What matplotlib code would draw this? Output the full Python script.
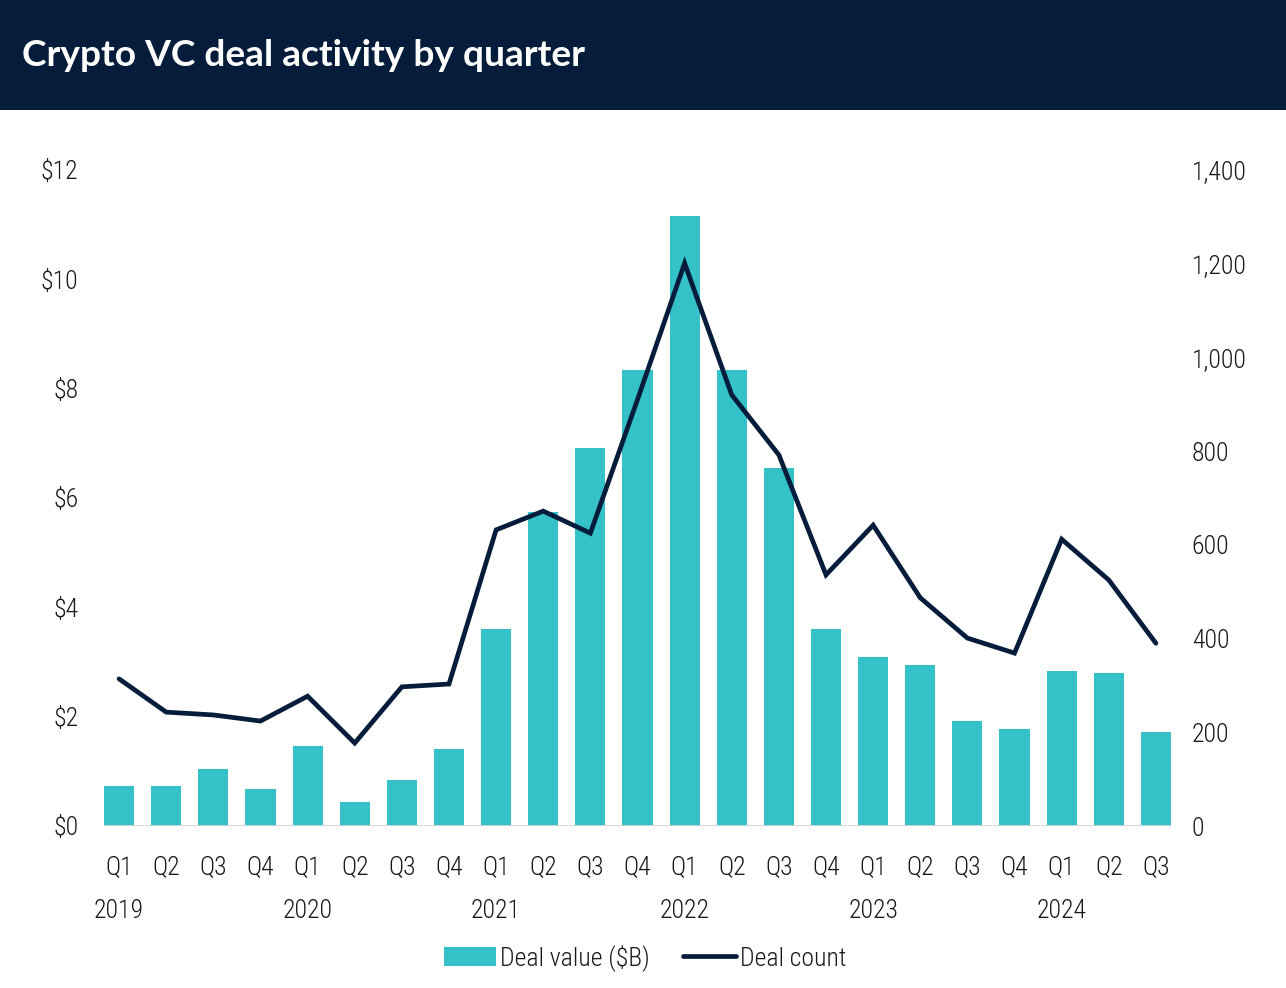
import matplotlib
matplotlib.use("Agg")
import matplotlib.pyplot as plt
from matplotlib.patches import Rectangle
from matplotlib.lines import Line2D
from matplotlib import font_manager as fm

quarters = ["Q1", "Q2", "Q3", "Q4"] * 5 + ["Q1", "Q2", "Q3"]
years = ["2019", "2020", "2021", "2022", "2023", "2024"]
deal_value = [0.73, 0.73, 1.04, 0.68, 1.46, 0.44, 0.84, 1.41,
              3.60, 5.74, 6.91, 8.34, 11.16, 8.34, 6.55, 3.60,
              3.09, 2.94, 1.92, 1.77, 2.84, 2.80, 1.72]
deal_count = [314, 243, 237, 224, 277, 177, 297, 303,
              632, 672, 625, 910, 1201, 920, 792, 536,
              642, 487, 401, 369, 612, 525, 390]
left_ticks = [0, 2, 4, 6, 8, 10, 12]
right_ticks = [0, 200, 400, 600, 800, 1000, 1200, 1400]

CYAN = "#34C1C8"
NAVY = "#051C3B"
TXT = "#1a1a1a"

names = {f.name for f in fm.fontManager.ttflist}
cands = ["Roboto Condensed", "Liberation Sans Narrow", "Open Sans Condensed", "Roboto"]
narrow = next((c for c in cands if c in names), "DejaVu Sans")
title_font = "Lato" if "Lato" in names else "DejaVu Sans"
FS = 18.5
fp = dict(family=narrow, fontsize=FS, color=TXT, fontweight="light")

W, H = 1286, 988
fig = plt.figure(figsize=(W / 100, H / 100), dpi=100)
fig.patch.set_facecolor("white")

# title band
fig.patches.append(Rectangle((0, 1 - 110 / H), 1, 110 / H, transform=fig.transFigure,
                             facecolor=NAVY, edgecolor="none", zorder=0))
fig.text(22 / W, 1 - 56 / H, "Crypto VC deal activity by quarter", color="white",
         fontsize=26.7, fontweight="bold", family=title_font, va="center", ha="left")

ax = fig.add_axes([104 / W, 1 - 826 / H, (1171 - 104) / W, (826 - 170) / H])
ax2 = ax.twinx()
n = len(deal_value)
x = list(range(n))
ax.bar(x, deal_value, width=0.64, color=CYAN, zorder=2)
ax2.plot(x, deal_count, color=NAVY, lw=3.4, solid_joinstyle="miter", solid_capstyle="round", zorder=3)

ax.set_xlim(-0.32, n - 1 + 0.32)
ax.set_ylim(0, 12)
ax2.set_ylim(0, 1400)
for a in (ax, ax2):
    for s in a.spines.values():
        s.set_visible(False)
    a.tick_params(length=0)
ax.axhline(0, color="#D3D3D3", lw=2, zorder=4)

ax.set_yticks(left_ticks)
ax.set_yticklabels([f"${v}" for v in left_ticks], **fp)
ax.tick_params(axis="y", pad=18.5)
ax2.set_yticks(right_ticks)
ax2.set_yticklabels([f"{v:,}" for v in right_ticks], **fp)
ax2.tick_params(axis="y", pad=15)

ax.set_xticks(x)
ax.set_xticklabels(quarters, **fp)
ax.tick_params(axis="x", pad=21)
ax2.patch.set_visible(False)

for i, yr in enumerate(years):
    ax.text(i * 4, -0.13, yr, transform=ax.get_xaxis_transform(), ha="center", va="center", **fp)

handles = [Rectangle((0, 0), 1, 1, facecolor=CYAN, edgecolor="none"),
           Line2D([0], [0], color=NAVY, lw=3.4, solid_capstyle="round")]
fig.legend(handles, ["Deal value ($B)", "Deal count"], loc="center", bbox_to_anchor=(645 / W, 1 - 958 / H),
           ncol=2, frameon=False, prop={"family": narrow, "size": FS, "weight": "light"}, handlelength=2.05,
           handleheight=0.8, handletextpad=0.15, columnspacing=1.3, labelcolor=TXT)

fig.savefig("out.png", dpi=100)
